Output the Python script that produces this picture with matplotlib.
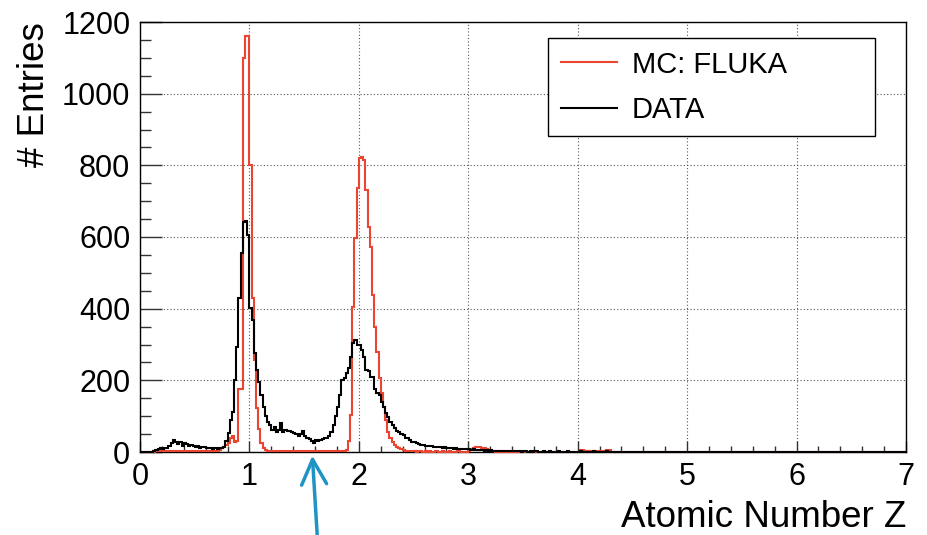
import numpy as np
import matplotlib
matplotlib.use("Agg")
import matplotlib.pyplot as plt
from matplotlib.lines import Line2D
from matplotlib.ticker import MultipleLocator

plt.rcParams['font.family'] = ['Liberation Sans', 'DejaVu Sans']

# histogram binning: 350 bins of 0.02 from Z=0 to Z=7
z_min, z_max, n_bins = 0.0, 7.0, 350

# DATA counts, bins from Z=0.00 upwards (rest of the range is empty)
data_vals = [
    0, 0, 0, 0, 0, 0, 3, 5, 8, 10,                 # 0.00
    8, 10, 12, 18, 25, 34, 28, 22, 28, 18,         # 0.20
    24, 22, 17, 20, 18, 15, 17, 12, 14, 13,        # 0.40
    11, 12, 10, 9, 11, 8, 12, 10, 14, 30,          # 0.60
    53, 89, 112, 200, 294, 430, 555, 643, 645, 605,  # 0.80
    403, 368, 276, 230, 195, 160, 125, 100, 85, 75,  # 1.00
    62, 70, 57, 62, 80, 57, 62, 60, 58, 57,        # 1.20
    53, 50, 45, 50, 60, 45, 40, 35, 30, 25,        # 1.40
    34, 30, 34, 36, 40, 38, 45, 57, 75, 100,       # 1.60
    126, 160, 200, 206, 220, 234, 266, 303, 313, 299,  # 1.80
    300, 285, 266, 229, 225, 210, 210, 175, 164, 160,  # 2.00
    140, 126, 110, 99, 85, 75, 66, 60, 57, 50,     # 2.20
    47, 40, 38, 33, 29, 27, 24, 22, 20, 20,        # 2.40
    18, 18, 17, 16, 15, 14, 15, 13, 12, 13,        # 2.60
    11, 10, 11, 9, 10, 8, 9, 7, 8, 7,              # 2.80
    7, 6, 7, 5, 6, 5, 6, 4, 5, 4,                  # 3.00
    5, 3, 4, 3, 3, 2, 3, 2, 3, 2,                  # 3.20
    2, 3, 2, 2, 1, 2, 2, 1, 2, 1,                  # 3.40
    3, 2, 1, 1, 2, 1, 1, 2, 1, 1,                  # 3.60
    1, 2, 1, 1, 1, 2, 1, 1, 1, 1,                  # 3.80
    1, 2, 1, 1, 1, 1, 1, 2, 1, 1,                  # 4.00
    1, 1, 1, 2, 1, 1, 1, 1, 1, 1,                  # 4.20
]

# MC (FLUKA) counts, same binning
mc_vals = [
    0, 0, 0, 0, 0, 0, 1, 2, 2, 2,                  # 0.00
    2, 2, 2, 2, 2, 2, 2, 2, 2, 2,                  # 0.20
    2, 2, 2, 2, 2, 2, 2, 2, 2, 2,                  # 0.40
    2, 2, 2, 2, 2, 3, 5, 10, 15, 20,               # 0.60
    25, 38, 45, 28, 30, 175, 175, 1100, 1161, 1161,  # 0.80
    800, 430, 257, 124, 63, 25, 12, 6, 4, 3,       # 1.00
    2, 2, 2, 2, 2, 2, 2, 2, 2, 2,                  # 1.20
    2, 2, 2, 2, 2, 2, 2, 2, 2, 2,                  # 1.40
    2, 2, 2, 2, 2, 2, 2, 2, 2, 2,                  # 1.60
    2, 2, 2, 2, 5, 30, 103, 406, 596, 736,         # 1.80
    820, 822, 815, 731, 629, 573, 438, 350, 280, 206,  # 2.00
    164, 126, 89, 57, 38, 29, 20, 15, 11, 8,       # 2.20
    5, 4, 3, 2, 2, 2, 1, 2, 2, 1,                  # 2.40
    2, 1, 2, 1, 1, 2, 1, 1, 2, 1,                  # 2.60
    1, 2, 1, 1, 1, 2, 1, 1, 1, 1,                  # 2.80
    3, 8, 10, 14, 15, 15, 12, 10, 8, 6,            # 3.00
    4, 2, 1, 2, 1, 1, 2, 1, 1, 1,                  # 3.20
    1, 1, 1, 1, 1, 0, 0, 0, 0, 0,                  # 3.40
    0, 0, 0, 0, 0, 0, 0, 0, 0, 0,                  # 3.60
    0, 0, 0, 0, 0, 0, 0, 0, 0, 0,                  # 3.80
    0, 5, 5, 3, 3, 2, 3, 2, 3, 2,                  # 4.00
    3, 2, 3, 5, 5, 0, 0, 0, 0, 0,                  # 4.20
]

legend_labels = ["MC: FLUKA", "DATA"]

data_counts = np.array(data_vals + [0] * (n_bins - len(data_vals)), dtype=float)
mc_counts = np.array(mc_vals + [0] * (n_bins - len(mc_vals)), dtype=float)
edges = np.linspace(z_min, z_max, n_bins + 1)

red = '#ea4530'

fig = plt.figure(figsize=(9.27, 5.35), dpi=100)
ax = fig.add_axes([140 / 927, 1 - 452 / 535, 766 / 927, 430 / 535])

ax.stairs(mc_counts, edges, color=red, lw=1.5, zorder=3, clip_on=False)
ax.stairs(data_counts, edges, color='black', lw=1.5, zorder=4, clip_on=False)

ax.set_xlim(z_min, z_max)
ax.set_ylim(0, 1200)
ax.xaxis.set_major_locator(MultipleLocator(1))
ax.xaxis.set_minor_locator(MultipleLocator(0.2))
ax.yaxis.set_major_locator(MultipleLocator(200))
ax.yaxis.set_minor_locator(MultipleLocator(50))

ax.set_axisbelow(True)
ax.grid(True, which='major', ls=(0, (1, 2)), color='#555555', lw=0.8)

ax.tick_params(which='both', direction='in', top=False, right=False,
               labelsize=22, width=1.0, color='#333333')
ax.tick_params(axis='x', which='major', length=8, pad=7)
ax.tick_params(axis='x', which='minor', length=4)
ax.tick_params(axis='y', which='major', length=16, pad=7)
ax.tick_params(axis='y', which='minor', length=8)
for s in ax.spines.values():
    s.set_linewidth(1.0)

handles = [Line2D([], [], color=red, lw=1.5), Line2D([], [], color='black', lw=1.5)]
leg = ax.legend(handles, legend_labels, loc='upper left',
                bbox_to_anchor=(0.533, 0.732, 0.4265, 0.23), mode='expand',
                borderaxespad=0, fontsize=21, frameon=True, fancybox=False,
                edgecolor='black', framealpha=1, handlelength=1.95,
                handletextpad=0.5, labelspacing=0.6, borderpad=0.42)
leg.get_frame().set_linewidth(1.0)

fig.text(35 / 927, 1 - 22 / 535, "# Entries", rotation=90, ha='center', va='top', fontsize=26.5)
fig.text(906 / 927, 1 - 527 / 535, "Atomic Number Z", ha='right', va='baseline', fontsize=26.5)

# blue arrow below the axis
ax.annotate('', xy=(1.575, -10), xytext=(1.62, -235), xycoords='data',
            annotation_clip=False,
            arrowprops=dict(arrowstyle='->,head_length=0.9,head_width=0.45',
                            color='#1f93c4', lw=2.5, shrinkA=0, shrinkB=0,
                            mutation_scale=20))

fig.savefig('out.png', dpi=100)
